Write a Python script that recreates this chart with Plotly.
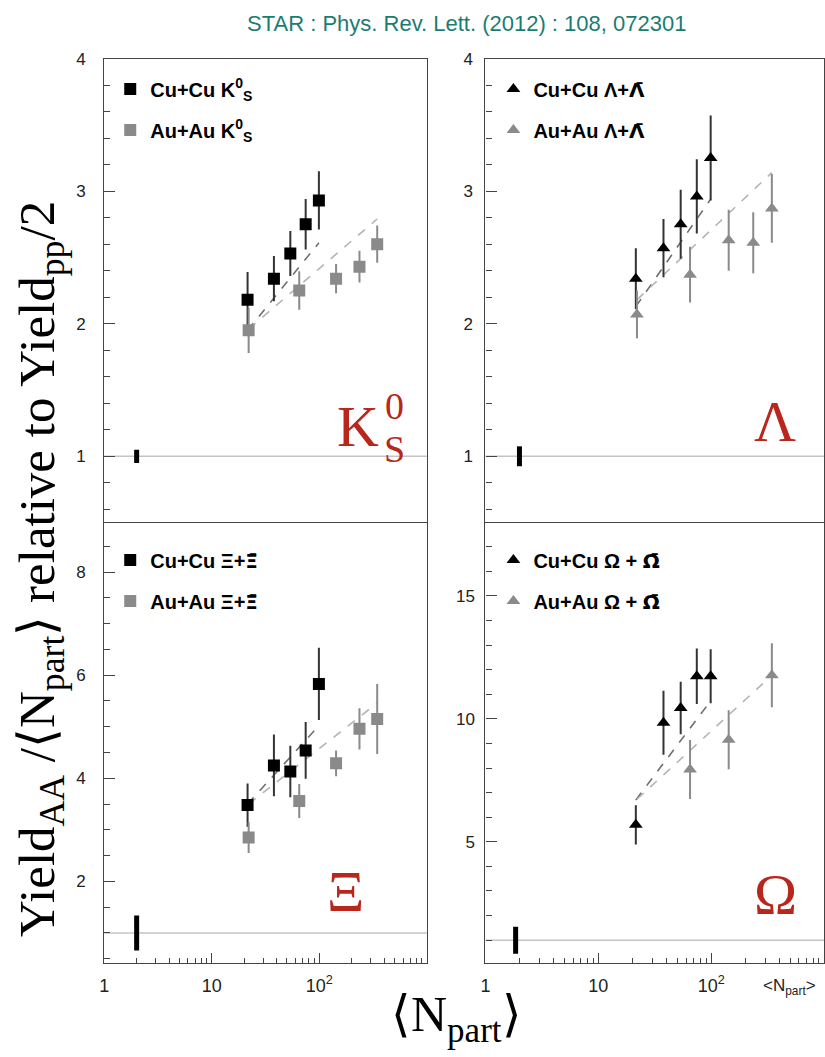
import plotly.graph_objects as go

# ---------------- data ----------------
npart_cu = [21.5, 37.8, 53.7, 74.6, 99.0]
npart_au = [22, 65, 143, 236, 345]
npart_au_omega = [65, 143, 345]

k0s_cu = [2.18, 2.34, 2.53, 2.75, 2.93]
k0s_cu_err = [0.21, 0.17, 0.17, 0.19, 0.22]
k0s_au = [1.95, 2.25, 2.34, 2.43, 2.60]
k0s_au_err = [0.17, 0.145, 0.11, 0.12, 0.14]
k0s_fit_cu = [1.95, 2.61]
k0s_fit_au = [1.96, 2.79]

lam_cu = [2.34, 2.57, 2.75, 2.96, 3.25]
lam_cu_err = [0.23, 0.22, 0.26, 0.28, 0.32]
lam_au = [2.07, 2.37, 2.63, 2.61, 2.87]
lam_au_err = [0.18, 0.21, 0.23, 0.23, 0.26]
lam_fit_cu = [2.13, 2.94]
lam_fit_au = [2.18, 3.14]

xi_cu = [3.48, 4.25, 4.13, 4.54, 5.83]
xi_cu_err = [0.42, 0.60, 0.50, 0.55, 0.70]
xi_au = [2.85, 3.56, 4.29, 4.96, 5.15]
xi_au_err = [0.30, 0.33, 0.25, 0.40, 0.68]
xi_fit_cu = [3.50, 5.02]
xi_fit_au = [3.50, 5.46]

om_cu = [5.69, 9.84, 10.44, 11.73, 11.73]
om_cu_err = [0.80, 1.30, 1.07, 1.13, 1.10]
om_au = [7.94, 9.15, 11.77]
om_au_err = [1.20, 1.20, 1.30]
om_fit_cu = [6.70, 10.73]
om_fit_au = [6.73, 11.77]

ref_level = 1.0
norm_x = [2.0, 2.0, 2.0, 1.85]
norm_unc = [0.05, 0.075, 0.34, 0.55]

x_tickvals = [1, 10, 100]
x_ticktext = ["1", "10", "10<sup>2</sup>"]

def bar(ch):
    return f'<span style="font-family:DejaVu Sans">{ch}\u0304</span>'

legend_names = [
    ("Cu+Cu K<sup>0</sup><sub>S</sub>", "Au+Au K<sup>0</sup><sub>S</sub>"),
    ("Cu+Cu \u039b+" + bar("\u039b"), "Au+Au \u039b+" + bar("\u039b")),
    ("Cu+Cu \u039e+" + bar("\u039e"), "Au+Au \u039e+" + bar("\u039e")),
    ("Cu+Cu \u03a9 + " + bar("\u03a9"), "Au+Au \u03a9 + " + bar("\u03a9")),
]

# ---------------- style ----------------
BLACK = "#000000"
GRAY = "#8a8a8a"
ERR_BLACK = "#333333"
FIT_CU = "#6e6e6e"
FIT_AU = "#b4b4b4"
RED = "#b8261c"
TEAL = "#1b7d72"
AXC = "#444444"

W, H = 825, 1057
def px_x(p):
    return p / W
def px_y(p):
    return 1 - p / H

xdom_left = [px_x(100), px_x(425)]
xdom_right = [px_x(484), 1.0]
ydom_top = [px_y(518), px_y(50)]
ydom_bot = [px_y(962), px_y(518)]

panels = [
    ("x", "y", "legend", "square", k0s_cu, k0s_cu_err, k0s_au, k0s_au_err, npart_au, k0s_fit_cu, k0s_fit_au),
    ("x2", "y2", "legend2", "triangle-up", lam_cu, lam_cu_err, lam_au, lam_au_err, npart_au, lam_fit_cu, lam_fit_au),
    ("x3", "y3", "legend3", "square", xi_cu, xi_cu_err, xi_au, xi_au_err, npart_au, xi_fit_cu, xi_fit_au),
    ("x4", "y4", "legend4", "triangle-up", om_cu, om_cu_err, om_au, om_au_err, npart_au_omega, om_fit_cu, om_fit_au),
]

fig = go.Figure()

for i, (xa, ya, lg, sym, cu, cue, au, aue, aux, fcu, fau) in enumerate(panels):
    fig.add_trace(go.Scatter(x=[npart_cu[0], npart_cu[-1]], y=fcu, mode="lines",
                             line=dict(color=FIT_CU, dash="dash", width=1.6),
                             xaxis=xa, yaxis=ya, showlegend=False, hoverinfo="skip"))
    fig.add_trace(go.Scatter(x=[npart_au[0], npart_au[-1]], y=fau, mode="lines",
                             line=dict(color=FIT_AU, dash="dash", width=1.6),
                             xaxis=xa, yaxis=ya, showlegend=False, hoverinfo="skip"))
    fig.add_trace(go.Scatter(x=[norm_x[i], norm_x[i]],
                             y=[ref_level - norm_unc[i], ref_level + norm_unc[i]],
                             mode="lines", line=dict(color=BLACK, width=5),
                             xaxis=xa, yaxis=ya, showlegend=False, hoverinfo="skip"))
    fig.add_trace(go.Scatter(x=npart_cu, y=cu, mode="markers", name=legend_names[i][0],
                             marker=dict(symbol=sym, size=12, color=BLACK),
                             error_y=dict(type="data", array=cue, width=0, thickness=2, color=ERR_BLACK),
                             xaxis=xa, yaxis=ya, legend=lg, legendgroup=f"cu{i}"))
    fig.add_trace(go.Scatter(x=aux, y=au, mode="markers", name=legend_names[i][1],
                             marker=dict(symbol=sym, size=12, color=GRAY),
                             error_y=dict(type="data", array=aue, width=0, thickness=2, color=GRAY),
                             xaxis=xa, yaxis=ya, legend=lg, legendgroup=f"au{i}"))

minor_x = [m * 10 ** d for d in range(3) for m in range(2, 10)]
TICKFONT = dict(family="Liberation Sans, Arial", size=17, color="#222")

def xaxis_cfg(domain, anchor, labels):
    d = dict(type="log", range=[0, 3], domain=domain, anchor=anchor,
             showline=True, linecolor=AXC, linewidth=1.2,
             tickmode="array", tickvals=x_tickvals, ticktext=x_ticktext,
             ticks="inside" if labels else "", ticklen=10, tickcolor=AXC, tickwidth=1.2,
             showticklabels=labels, ticklabelstandoff=6,
             tickfont=dict(family="Liberation Sans, Arial", size=18, color="#222"),
             minor=dict(tickmode="array", tickvals=minor_x, ticks="inside" if labels else "",
                        ticklen=5, tickcolor=AXC, showgrid=False),
             showgrid=False, zeroline=False)
    if labels:
        d["mirror"] = True
    else:
        d["side"] = "top"
        d["mirror"] = False
    return d

def yaxis_cfg(domain, anchor, rng, dtick, minor_dtick, standoff):
    return dict(range=rng, domain=domain, anchor=anchor,
                showline=True, linecolor=AXC, linewidth=1.2, mirror=True,
                tick0=0, dtick=dtick, ticks="inside", ticklen=11, tickcolor=AXC, tickwidth=1.2,
                ticklabelstandoff=standoff, tickfont=TICKFONT,
                minor=dict(tick0=0, dtick=minor_dtick, ticks="inside", ticklen=6,
                           tickcolor=AXC, showgrid=False),
                showgrid=False, zeroline=False)

fig.update_layout(
    width=W, height=H, margin=dict(l=0, r=0, t=0, b=0),
    paper_bgcolor="white", plot_bgcolor="white",
    xaxis=xaxis_cfg(xdom_left, "y", False),
    xaxis2=xaxis_cfg(xdom_right, "y2", False),
    xaxis3=xaxis_cfg(xdom_left, "y3", True),
    xaxis4=xaxis_cfg(xdom_right, "y4", True),
    yaxis=yaxis_cfg(ydom_top, "x", [0.5, 4], 1, 0.2, 14),
    yaxis2=yaxis_cfg(ydom_top, "x2", [0.5, 4], 1, 0.2, 8),
    yaxis3=yaxis_cfg(ydom_bot, "x3", [0.42, 8.96], 2, 0.5, 14),
    yaxis4=yaxis_cfg(ydom_bot, "x4", [0.08, 17.98], 5, 1, 6),
    showlegend=True,
)

leg_font = dict(family="Liberation Sans, Arial", size=20, color="black", weight="bold")
leg_pos = {"legend": (px_x(106), px_y(61)), "legend2": (px_x(492), px_y(61)),
           "legend3": (px_x(106), px_y(536)), "legend4": (px_x(492), px_y(536))}
for name, (lx, ly) in leg_pos.items():
    fig.update_layout({name: dict(x=lx, y=ly, xanchor="left", yanchor="top",
                                  bgcolor="rgba(0,0,0,0)", font=leg_font,
                                  traceorder="grouped", tracegroupgap=12,
                                  itemwidth=30)})

for xa, ya in [("x", "y"), ("x2", "y2"), ("x3", "y3"), ("x4", "y4")]:
    fig.add_shape(type="line", xref=f"{xa} domain", yref=ya, x0=0, x1=1,
                  y0=ref_level, y1=ref_level, line=dict(color="#c4c4c4", width=1.5), layer="below")

serif = "Liberation Serif, Times New Roman, serif"

def note(x, y, text, font, **kw):
    fig.add_annotation(x=px_x(x), y=px_y(y), xref="paper", yref="paper", text=text,
                       showarrow=False, xanchor="center", yanchor="middle", font=font, **kw)

big = dict(family=serif, size=58, color=RED)
small = dict(family=serif, size=38, color=RED)
note(356, 421, "K", big)
note(392, 400, "0", small)
note(392, 444, "S", small)
note(776, 416, "\u039b", big)
note(343, 890, "\u039e", big)
note(776, 893, "\u03a9", big)

note(465, 15, "STAR : Phys. Rev. Lett. (2012) : 108, 072301",
     dict(family="Liberation Sans Narrow, Arial Narrow, Liberation Sans", size=22, color=TEAL))
note(36, 565, "Yield<sub>AA</sub> /\u27e8N<sub>part</sub>\u27e9 relative to Yield<sub>pp</sub>/2",
     dict(family=serif, size=51, color="black"), textangle=-90)
note(455, 1018, "\u27e8N<sub>part</sub>\u27e9", dict(family=serif, size=50, color="black"))
note(790, 986, "&lt;N<sub>part</sub>&gt;", dict(family="Liberation Sans, Arial", size=17, color="#222"))

fig.write_html("out.html")
